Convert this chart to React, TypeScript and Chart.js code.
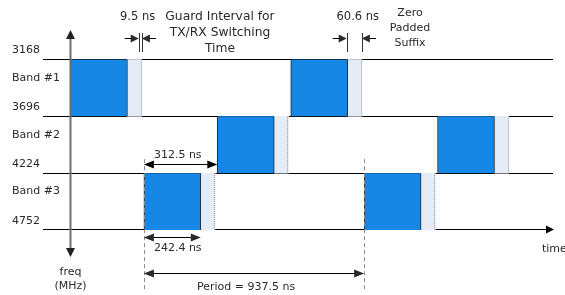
import React, { useEffect, useRef } from 'react';
import { Chart, registerables } from 'chart.js';

Chart.register(...registerables);

// ---- data ----
const bandNames = ['Band #1', 'Band #2', 'Band #3'];
const freqEdges = [3168, 3696, 4224, 4752]; // MHz, band boundaries
const hopBands = [0, 2, 1, 0, 2, 1]; // band index of each symbol
const symbolStarts = [0, 312.5, 625, 937.5, 1250, 1562.5]; // ns
const symbolLength = 242.4; // ns
const suffixLength = 60.6; // ns
const guardLength = 9.5; // ns
const period = 937.5; // ns
const timeRange = [-117, 2054];
const freqRange = [2894, 5003];

const guardText = ['Guard Interval for', 'TX/RX Switching', 'Time'];
const suffixText = ['Zero', 'Padded', 'Suffix'];

const bandCenter = (i: number) => (freqEdges[i] + freqEdges[i + 1]) / 2;

const symbolData = symbolStarts.map((s, i) => ({ x: [s, s + symbolLength], y: bandCenter(hopBands[i]) }));
const suffixData = symbolStarts.map((s, i) => ({
  x: [s + symbolLength, s + symbolLength + suffixLength],
  y: bandCenter(hopBands[i]),
}));

const FONT = '"DejaVu Sans", Verdana, sans-serif';
const TEXT = '#2a2a2a';

function head(ctx: CanvasRenderingContext2D, x: number, y: number, angle: number, len = 8, hw = 4) {
  ctx.save();
  ctx.translate(x, y);
  ctx.rotate(angle);
  ctx.beginPath();
  ctx.moveTo(0, 0);
  ctx.lineTo(-len, -hw);
  ctx.lineTo(-len, hw);
  ctx.closePath();
  ctx.fill();
  ctx.restore();
}

function hline(ctx: CanvasRenderingContext2D, x1: number, x2: number, y: number) {
  ctx.beginPath();
  ctx.moveTo(x1, y);
  ctx.lineTo(x2, y);
  ctx.stroke();
}

function text(ctx: CanvasRenderingContext2D, s: string, x: number, y: number, align: CanvasTextAlign, size = 11) {
  ctx.font = `${size}px ${FONT}`;
  ctx.textAlign = align;
  ctx.textBaseline = 'middle';
  ctx.fillStyle = TEXT;
  ctx.fillText(s, x, y);
}

const diagramPlugin = {
  id: 'diagram',
  afterDatasetsDraw(chart: any) {
    const { ctx, chartArea, scales } = chart;
    const xs = scales.x;
    const x0 = xs.getPixelForValue(0);
    ctx.save();
    // dotted right edge of each zero padded suffix
    ctx.strokeStyle = '#9a9ea4';
    ctx.lineWidth = 1;
    ctx.setLineDash([1, 1]);
    chart.getDatasetMeta(1).data.forEach((el: any) => {
      const px = Math.round(el.x) - 0.5;
      ctx.beginPath();
      ctx.moveTo(px, el.y - el.height / 2);
      ctx.lineTo(px, el.y + el.height / 2);
      ctx.stroke();
    });
    ctx.setLineDash([]);
    // vertical frequency axis
    ctx.strokeStyle = '#6e6e6e';
    ctx.fillStyle = '#222';
    ctx.lineWidth = 2;
    ctx.beginPath();
    ctx.moveTo(x0, chartArea.top + 6);
    ctx.lineTo(x0, chartArea.bottom - 6);
    ctx.stroke();
    head(ctx, x0, chartArea.top, -Math.PI / 2, 9, 4.5);
    head(ctx, x0, chartArea.bottom, Math.PI / 2, 9, 4.5);
    ctx.restore();
  },
  afterDraw(chart: any) {
    const { ctx, chartArea, scales } = chart;
    const xs = scales.x;
    const ys = scales.y;
    const X = (v: number) => xs.getPixelForValue(v);
    const Y = (v: number) => ys.getPixelForValue(v);
    ctx.save();

    // time axis arrow head
    const yBottom = Math.floor(Y(freqEdges[3])) + 0.5;
    ctx.fillStyle = '#000';
    head(ctx, chartArea.right + 1, yBottom, 0, 8, 4);

    // band labels
    bandNames.forEach((b, i) => text(ctx, b, ys.left, Y(bandCenter(i)) - 10, 'left'));

    // dashed period markers
    const tA = symbolStarts[1];
    const tB = symbolStarts[1] + period;
    ctx.strokeStyle = '#8a8a8a';
    ctx.lineWidth = 1;
    ctx.setLineDash([4, 3]);
    [tA, tB].forEach((t) => {
      const px = Math.round(X(t)) + 0.5;
      ctx.beginPath();
      ctx.moveTo(px, Y(freqEdges[2]) - 14);
      ctx.lineTo(px, chart.height - 3);
      ctx.stroke();
    });
    ctx.setLineDash([]);

    // dimension arrows (double headed)
    ctx.strokeStyle = '#000';
    ctx.fillStyle = '#000';
    ctx.lineWidth = 1;
    const dim = (a: number, b: number, y: number) => {
      hline(ctx, a + 4, b - 4, y);
      head(ctx, a, y, Math.PI, 10, 4);
      head(ctx, b, y, 0, 10, 4);
    };
    const yDim1 = Math.round(Y(freqEdges[2]) - 9) + 0.5;
    dim(X(tA), X(symbolStarts[2]), yDim1);
    text(ctx, `${symbolStarts[2] - symbolStarts[1]} ns`, X(tA) + 10, yDim1 - 9, 'left');

    const yDim2 = Math.round(Y(freqEdges[3]) + 7) + 0.5;
    dim(X(tA), X(tA + symbolLength), yDim2);
    text(ctx, `${symbolLength} ns`, X(tA) + 10, yDim2 + 11, 'left');

    const yDim3 = Math.round(Y(freqEdges[3]) + 43) + 0.5;
    dim(X(tA), X(tB), yDim3);
    text(ctx, `Period = ${period} ns`, (X(tA) + X(tB)) / 2 - 8, yDim3 + 14, 'center');

    // top inward-pointing dimensions
    const yTop = 38.5;
    const inward = (a: number, b: number) => {
      ctx.strokeStyle = '#333';
      ctx.lineWidth = 1;
      [a, b].forEach((p) => {
        const px = Math.round(p) + 0.5;
        ctx.beginPath();
        ctx.moveTo(px, 33);
        ctx.lineTo(px, 52);
        ctx.stroke();
      });
      ctx.strokeStyle = '#000';
      hline(ctx, a - 14, a - 4, yTop);
      head(ctx, a, yTop, 0, 8, 4);
      hline(ctx, b + 4, b + 14, yTop);
      head(ctx, b, yTop, Math.PI, 8, 4);
    };
    const gA = symbolLength + suffixLength;
    const gB = symbolStarts[1];
    inward(X(gA) - 3, X(gB) - 2);
    text(ctx, `${guardLength} ns`, X(gA) - 4, 17, 'center', 11.5);

    const sA = symbolStarts[3] + symbolLength;
    const sB = sA + suffixLength;
    inward(X(sA) - 1, X(sB));
    text(ctx, `${suffixLength} ns`, (X(sA) + X(sB)) / 2 + 3, 17, 'center', 11.5);

    guardText.forEach((t, i) => text(ctx, t, 220, 17 + i * 16, 'center', 12.3));
    suffixText.forEach((t, i) => text(ctx, t, 410, 13 + i * 15, 'center', 11));

    // axis titles
    text(ctx, 'freq', X(0), 272, 'center');
    text(ctx, '(MHz)', X(0), 286, 'center');
    text(ctx, 'time', chartArea.right - 11, 249, 'left');

    ctx.restore();
  },
};

export default function App() {
  const ref = useRef<HTMLCanvasElement | null>(null);
  useEffect(() => {
    if (!ref.current) return;
    const chart = new Chart(ref.current, {
      type: 'bar',
      data: {
        datasets: [
          {
            label: 'Symbol',
            data: symbolData as any,
            backgroundColor: '#1787e6',
            borderColor: '#1d2a38',
            borderWidth: { left: 1, right: 1, top: 0, bottom: 0 } as any,
            borderSkipped: false,
            grouped: false,
            barPercentage: 1,
            categoryPercentage: 1,
          },
          {
            label: 'Zero padded suffix',
            data: suffixData as any,
            backgroundColor: '#e6ecf5',
            borderWidth: 0,
            borderSkipped: false,
            grouped: false,
            barPercentage: 1,
            categoryPercentage: 1,
          },
        ],
      },
      options: {
        indexAxis: 'y',
        animation: false,
        responsive: false,
        devicePixelRatio: 1,
        layout: { padding: { left: 12, right: 12, top: 30, bottom: 38 } },
        plugins: { legend: { display: false }, tooltip: { enabled: false } },
        scales: {
          x: {
            type: 'linear',
            display: false,
            min: timeRange[0],
            max: timeRange[1],
            grid: { display: false },
          },
          y: {
            type: 'linear',
            min: freqRange[0],
            max: freqRange[1],
            reverse: true,
            offset: false,
            z: 1,
            afterBuildTicks: (s: any) => {
              s.ticks = freqEdges.map((v) => ({ value: v }));
            },
            afterFit: (s: any) => {
              s.width = 31;
            },
            border: { display: false },
            grid: { offset: false, drawTicks: false, color: '#000', lineWidth: 1 },
            ticks: {
              autoSkip: false,
              crossAlign: 'far',
              padding: 0,
              labelOffset: -9,
              color: TEXT,
              font: { family: FONT, size: 11 },
              callback: (v: any) => String(v),
            },
          },
        },
      } as any,
      plugins: [diagramPlugin],
    });
    return () => chart.destroy();
  }, []);
  return (
    <div style={{ position: 'fixed', left: 0, top: 0, width: 565, height: 295, background: '#fff' }}>
      <canvas ref={ref} width={565} height={295} style={{ display: 'block' }} />
    </div>
  );
}
